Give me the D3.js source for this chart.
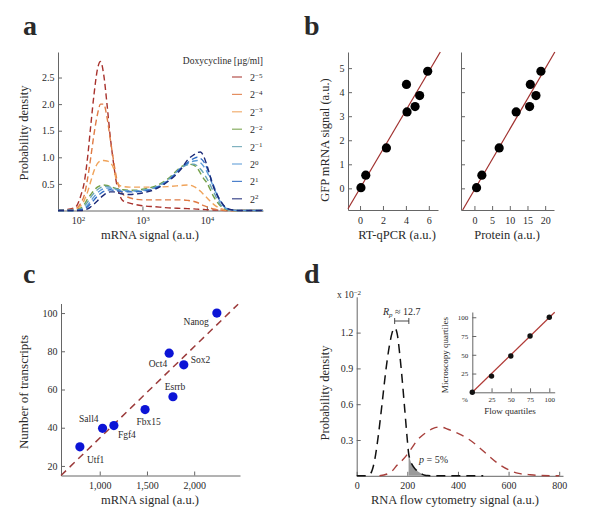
<!DOCTYPE html>
<html><head><meta charset="utf-8">
<script src="https://cdn.jsdelivr.net/npm/d3@7"></script>
<style>
body{margin:0;background:#fff}
svg{display:block}
text{font-family:"Liberation Serif","Times New Roman",serif;fill:#2a2a2a}
</style>
</head><body><svg id="c" width="600" height="519"></svg>
<script>
// ---------- Panel a data ----------
const doxExponents = ["−5","−4","−3","−2","−1","0","1","2"];
const doxColors = ["#a8322d","#e07b45","#f0a35a","#74a048","#6aa5b4","#5b9bd8","#2f6cc4","#1c2a78"];
const mrnaSignal = [49,89,112,126,141,158,178,200,224,251,282,316,355,398,447,501,631,794,1000,1585,2512,3981,5012,6310,7079,7943,8913,10000,12589,15849,19953,25119,31623,74131];
const densityDoxM5 = [0,0.05,0.3,0.55,1.0,1.6,2.2,2.65,2.8,2.55,2.0,1.4,0.9,0.5,0.28,0.18,0.14,0.11,0.09,0.07,0.05,0.04,0.035,0.03,0.025,0.02,0.018,0.015,0.01,0.005,0,0,0,0];
const densityDoxM4 = [0,0.03,0.15,0.3,0.6,1.0,1.45,1.8,2.0,2.0,1.75,1.35,0.95,0.6,0.4,0.3,0.24,0.21,0.2,0.2,0.2,0.2,0.19,0.17,0.15,0.12,0.09,0.07,0.03,0.01,0,0,0,0];
const densityDoxM3 = [0,0.02,0.1,0.2,0.35,0.55,0.75,0.88,0.93,0.94,0.93,0.9,0.8,0.55,0.47,0.45,0.44,0.44,0.44,0.44,0.45,0.47,0.48,0.45,0.41,0.36,0.3,0.24,0.12,0.04,0.01,0,0,0];
const densityDoxM2 = [0,0,0.05,0.12,0.22,0.3,0.38,0.44,0.47,0.48,0.47,0.45,0.43,0.41,0.4,0.39,0.38,0.38,0.4,0.46,0.6,0.82,0.87,0.85,0.8,0.7,0.6,0.52,0.27,0.1,0.02,0,0,0];
const densityDoxM1 = [0,0,0.03,0.08,0.16,0.25,0.33,0.39,0.43,0.45,0.45,0.44,0.42,0.4,0.39,0.38,0.37,0.37,0.38,0.44,0.58,0.8,0.86,0.87,0.84,0.78,0.7,0.6,0.36,0.13,0.03,0,0,0];
const densityDox0  = [0,0,0.02,0.05,0.1,0.18,0.26,0.33,0.38,0.41,0.42,0.42,0.41,0.39,0.38,0.37,0.36,0.36,0.37,0.43,0.57,0.8,0.88,0.93,0.94,0.9,0.83,0.73,0.45,0.18,0.04,0.01,0,0];
const densityDox1  = [0,0,0.01,0.03,0.07,0.13,0.2,0.27,0.32,0.36,0.38,0.39,0.38,0.37,0.36,0.35,0.35,0.35,0.36,0.42,0.56,0.8,0.9,0.98,1.0,0.98,0.92,0.8,0.48,0.2,0.05,0.01,0,0];
const densityDox2  = [0,0,0,0.01,0.03,0.07,0.12,0.18,0.24,0.29,0.33,0.35,0.35,0.34,0.32,0.31,0.3,0.31,0.33,0.4,0.55,0.78,0.95,1.05,1.09,1.1,1.02,0.85,0.45,0.2,0.05,0.01,0,0];
const panelATicksX = [100,1000,10000];
const panelATicksY = [0.5,1.0,1.5,2.0,2.5];

// ---------- Panel b data ----------
const gfpSignal = [0.03,0.55,1.68,3.18,4.32,3.4,3.86,4.87];
const rtqpcr = [0.08,0.5,2.3,4.1,4.05,4.8,5.2,5.9];
const protein = [0.6,2.1,7.0,11.8,15.8,15.6,17.4,18.8];
const fitRtqpcr = [0.81, 0.0];     // slope, intercept
const fitProtein = [0.252, -0.06];
const panelBTicksY = [0,1,2,3,4,5];
const panelBTicksRtq = [0,2,4,6];
const panelBTicksProt = [0,5,10,15,20];

// ---------- Panel c data ----------
const genes = ["Utf1","Sall4","Fgf4","Fbx15","Esrrb","Oct4","Sox2","Nanog"];
const geneSignal = [790,1030,1150,1480,1775,1735,1890,2240];
const geneTranscripts = [30,39.7,41.1,49.5,56.2,79,72.9,100];
const fitGenes = [0.0478, -13.2];
const fitGenesRange = [590, 2465];
const panelCTicksX = [1000,1500,2000];
const panelCTicksY = [20,40,60,80,100];

// ---------- Panel d data ----------
const flowXNarrow = [0,40,55,70,85,100,115,130,140,150,160,170,180,190,200,205,210,220,230,240,250,260,270,280,300,500];
const densityNarrow = [0,0,0.02,0.12,0.33,0.6,0.88,1.1,1.2,1.24,1.19,1.02,0.8,0.55,0.3,0.19,0.14,0.09,0.06,0.04,0.025,0.012,0.005,0.002,0,0];
const flowXWide = [90,120,140,160,180,200,220,240,260,280,300,330,360,400,440,480,520,560,600,640,680,720,800];
const densityWide = [0,0.015,0.04,0.09,0.13,0.18,0.24,0.3,0.34,0.37,0.395,0.41,0.39,0.355,0.31,0.245,0.17,0.1,0.05,0.02,0.01,0.003,0];
const pThreshold = 205;
const rpBracket = [150, 206];
const panelDTicksX = [0,200,400,600,800];
const panelDTicksY = [0.3,0.6,0.9,1.2];
const flowQuartiles = [0,25,50,75,100];
const microscopyQuartiles = [0,21.6,48.4,75,100];
const fitQuartiles = [1.0, -0.3];
const insetTicks = [25,50,75,100];

// ---------- drawing ----------
const SERIF = '"Liberation Serif","Times New Roman",serif';
const TXT = "#2a2a2a";
const svg = d3.select("#c");
svg.append("rect").attr("width",600).attr("height",519).attr("fill","#fff");
const AX = "#666";

function styleAxis(g, fs){
  g.attr("font-family", null).attr("font-size", null);
  g.selectAll("path.domain").attr("stroke", AX).attr("stroke-width", 1);
  g.selectAll(".tick line").attr("stroke", AX);
  g.selectAll(".tick text").attr("fill",TXT).style("font-family", SERIF).style("font-size", (fs||10)+"px");
}
function xAxis(yPos, scale, ticks, fmt, fs, pad){
  const g = svg.append("g").attr("transform", `translate(0,${yPos})`)
    .call(d3.axisBottom(scale).tickValues(ticks).tickFormat(fmt).tickSize(-4).tickSizeOuter(0).tickPadding(pad==null?6.5:pad));
  styleAxis(g, fs); return g;
}
function yAxis(xPos, scale, ticks, fmt, fs, pad){
  const g = svg.append("g").attr("transform", `translate(${xPos},0)`)
    .call(d3.axisLeft(scale).tickValues(ticks).tickFormat(fmt).tickSize(-4).tickSizeOuter(0).tickPadding(pad==null?3.5:pad));
  styleAxis(g, fs); return g;
}
function label(x, y, txt, opts){
  opts = opts || {};
  const t = svg.append("text").attr("x", x).attr("y", y).text(txt)
    .attr("font-size", (opts.fs||12.5)+"px")
    .attr("text-anchor", opts.anchor||"middle");
  if (opts.rot) t.attr("transform", `rotate(-90,${x},${y})`);
  if (opts.bold) t.attr("font-weight","bold").attr("fill","#111");
  if (opts.italic) t.attr("font-style","italic");
  return t;
}
function panelLetter(x, y, s){ label(x, y, s, {fs:28, bold:true, anchor:"start"}); }

// ===== Panel a =====
const xA = d3.scaleLog().domain([49, 74131]).range([58, 263]);
const yA = d3.scaleLinear().domain([0, 2.98]).range([210.5, 52]);
const seriesA = [densityDoxM5,densityDoxM4,densityDoxM3,densityDoxM2,densityDoxM1,densityDox0,densityDox1,densityDox2];
const gxA = xAxis(210.5, xA, panelATicksX, d=>"", 10);
gxA.selectAll(".tick text").each(function(d){
  const t = d3.select(this);
  t.text(null);
  t.append("tspan").text("10");
  t.append("tspan").attr("dy","-0.45em").style("font-size","7px").text(String(Math.round(Math.log10(d))));
});
yAxis(58, yA, panelATicksY, d3.format(".1f"), 10);
const lineA = d3.line().x((d,i)=>xA(mrnaSignal[i])).y(d=>yA(d)).curve(d3.curveMonotoneX);
seriesA.forEach((s,k)=>{
  svg.append("path").datum(s).attr("d", lineA).attr("fill","none")
    .attr("stroke", doxColors[k]).attr("stroke-width",1.4).attr("stroke-dasharray","6,3.5");
});
// legend
label(263, 64, "Doxycycline [µg/ml]", {fs:9.5, anchor:"end"});
doxExponents.forEach((e,k)=>{
  const y = 77 + k*17.4;
  svg.append("line").attr("x1",232).attr("x2",242).attr("y1",y).attr("y2",y)
    .attr("stroke", doxColors[k]).attr("stroke-width",1.2).attr("opacity",0.85);
  const t = svg.append("text").attr("x",250).attr("y",y+4).attr("font-size","10px");
  t.append("tspan").text("2");
  t.append("tspan").attr("dy","-0.5em").style("font-size","7px").text(e);
});
label(150, 239, "mRNA signal (a.u.)");
label(28, 133, "Probability density", {rot:true});
panelLetter(23, 35, "a");

// ===== Panel b =====
const yB = d3.scaleLinear().domain([-0.9, 5.67]).range([210, 52]);
const xB1 = d3.scaleLinear().domain([-1.05, 6.8]).range([348, 438]);
const xB2 = d3.scaleLinear().domain([-3.8, 22.5]).range([461, 554]);
xAxis(210, xB1, panelBTicksRtq, d3.format("d"), 10);
yAxis(348, yB, panelBTicksY, d3.format("d"), 10);
xAxis(210, xB2, panelBTicksProt, d3.format("d"), 10);
yAxis(461, yB, panelBTicksY, d=>"", 10);
function fitLine(xs, ys, fit){
  const [m,b] = fit;
  let x0 = Math.max(xs.domain()[0], (ys.domain()[0]-b)/m);
  let x1 = (ys.domain()[1]-b)/m;
  svg.append("line").attr("x1", xs(x0)).attr("y1", ys(m*x0+b)).attr("x2", xs(x1)).attr("y2", ys(m*x1+b))
    .attr("stroke","#a0302e").attr("stroke-width",1.2);
}
fitLine(xB1, yB, fitRtqpcr);
fitLine(xB2, yB, fitProtein);
svg.append("g").selectAll("circle").data(gfpSignal).join("circle")
  .attr("cx",(d,i)=>xB1(rtqpcr[i])).attr("cy",d=>yB(d)).attr("r",4.6).attr("fill","#000");
svg.append("g").selectAll("circle").data(gfpSignal).join("circle")
  .attr("cx",(d,i)=>xB2(protein[i])).attr("cy",d=>yB(d)).attr("r",4.6).attr("fill","#000");
label(397, 239, "RT-qPCR (a.u.)");
label(507, 239, "Protein (a.u.)");
label(329, 140, "GFP mRNA signal (a.u.)", {rot:true});
panelLetter(304, 35, "b");

// ===== Panel c =====
const xC = d3.scaleLinear().domain([590, 2485]).range([61, 240]);
const yC = d3.scaleLinear().domain([15, 105]).range([475.5, 303.5]);
xAxis(475.5, xC, panelCTicksX, d3.format(","), 10);
yAxis(61, yC, panelCTicksY, d3.format("d"), 10);
svg.append("line")
  .attr("x1", xC(fitGenesRange[0])).attr("y1", yC(fitGenes[0]*fitGenesRange[0]+fitGenes[1]))
  .attr("x2", xC(fitGenesRange[1])).attr("y2", yC(fitGenes[0]*fitGenesRange[1]+fitGenes[1]))
  .attr("stroke","#9c3b3b").attr("stroke-width",1.5).attr("stroke-dasharray","7,5");
svg.append("g").selectAll("circle").data(genes).join("circle")
  .attr("cx",(d,i)=>xC(geneSignal[i])).attr("cy",(d,i)=>yC(geneTranscripts[i])).attr("r",4.6).attr("fill","#0c14d6");
const geneLabelPlace = {
  Utf1:[7,16,"start"], Sall4:[-4,-6,"end"], Fgf4:[4,12,"start"], Fbx15:[3.5,15,"middle"],
  Esrrb:[2,-7,"middle"], Oct4:[-2,14,"end"], Sox2:[7,-1.5,"start"], Nanog:[-8,12,"end"]
};
genes.forEach((g,i)=>{
  const p = geneLabelPlace[g];
  label(xC(geneSignal[i])+p[0], yC(geneTranscripts[i])+p[1], g, {fs:9.5, anchor:p[2]});
});
label(150, 504, "mRNA signal (a.u.)");
label(28, 392, "Number of transcripts", {rot:true, fs:13});
panelLetter(23, 283, "c");

// ===== Panel d =====
const xD = d3.scaleLinear().domain([0, 815]).range([356.7, 563]);
const yD = d3.scaleLinear().domain([0, 1.5]).range([475.8, 296.8]);
xAxis(475.8, xD, panelDTicksX, d3.format("d"), 10, 6);
yAxis(356.7, yD, panelDTicksY, d3.format(".1f"), 10);
// shaded p region
const shadeIdx = flowXNarrow.map((x,i)=>i).filter(i=>flowXNarrow[i]>=pThreshold && flowXNarrow[i]<=300);
svg.append("path").datum(shadeIdx)
  .attr("d", d3.area().x(i=>xD(flowXNarrow[i])).y0(yD(0)).y1(i=>yD(densityNarrow[i])).curve(d3.curveMonotoneX))
  .attr("fill","#9a9a9a");
svg.append("path").datum(densityWide)
  .attr("d", d3.line().x((d,i)=>xD(flowXWide[i])).y(d=>yD(d)).curve(d3.curveMonotoneX))
  .attr("fill","none").attr("stroke","#a8403c").attr("stroke-width",1.4).attr("stroke-dasharray","8,6");
svg.append("path").datum(densityNarrow)
  .attr("d", d3.line().x((d,i)=>xD(flowXNarrow[i])).y(d=>yD(d)).curve(d3.curveMonotoneX))
  .attr("fill","none").attr("stroke","#111").attr("stroke-width",1.5).attr("stroke-dasharray","9,6");
// exponent label
{
  const t = svg.append("text").attr("x",337).attr("y",298).attr("font-size","9.5px");
  t.append("tspan").text("x 10");
  t.append("tspan").attr("dy","-0.5em").style("font-size","7px").text("−2");
}
// R_p bracket
{
  const by = 321, x0 = xD(rpBracket[0]), x1 = xD(rpBracket[1]);
  svg.append("line").attr("x1",x0).attr("x2",x1).attr("y1",by).attr("y2",by).attr("stroke","#333").attr("stroke-width",0.9);
  svg.append("line").attr("x1",x0).attr("x2",x0).attr("y1",by-3).attr("y2",by+3).attr("stroke","#333").attr("stroke-width",0.9);
  svg.append("line").attr("x1",x1).attr("x2",x1).attr("y1",by-3).attr("y2",by+3).attr("stroke","#333").attr("stroke-width",0.9);
  const t = svg.append("text").attr("x",(x0+x1)/2).attr("y",314.5).attr("font-size","10px").attr("text-anchor","middle");
  t.append("tspan").attr("font-style","italic").text("R");
  t.append("tspan").attr("font-style","italic").attr("dy","2.5").style("font-size","7px").text("p");
  t.append("tspan").attr("dy","-2.5").text(" ≈ 12.7");
}
{
  const t = svg.append("text").attr("x",419).attr("y",463).attr("font-size","10px");
  t.append("tspan").attr("font-style","italic").text("p");
  t.append("tspan").text(" = 5%");
}
// inset
const xI = d3.scaleLinear().domain([0, 107]).range([472.3, 554.7]);
const yI = d3.scaleLinear().domain([0, 107]).range([392.3, 312]);
const gxi = xAxis(392.3, xI, [0].concat(insetTicks), d=>d===0?"%":String(d), 7, 5);
gxi.selectAll(".tick").filter(d=>d===0).select("text").attr("x",-8);
gxi.selectAll(".tick").filter(d=>d===0).select("line").remove();
yAxis(472.3, yI, insetTicks, d3.format("d"), 7, 4);
{
  const [m,b] = fitQuartiles;
  svg.append("line").attr("x1",xI(0)).attr("y1",yI(Math.max(0,b))).attr("x2",xI(107)).attr("y2",yI(m*107+b))
    .attr("stroke","#b03a36").attr("stroke-width",1.2);
}
svg.append("g").selectAll("circle").data(microscopyQuartiles).join("circle")
  .attr("cx",(d,i)=>xI(flowQuartiles[i])).attr("cy",d=>yI(d)).attr("r",2.7).attr("fill","#111");
label(510, 414, "Flow quartiles", {fs:9});
label(448, 355, "Microscopy quartiles", {fs:9, rot:true});
label(455, 504, "RNA flow cytometry signal (a.u.)");
label(329, 393, "Probability density", {rot:true});
panelLetter(304, 283, "d");
</script>
</body></html>
